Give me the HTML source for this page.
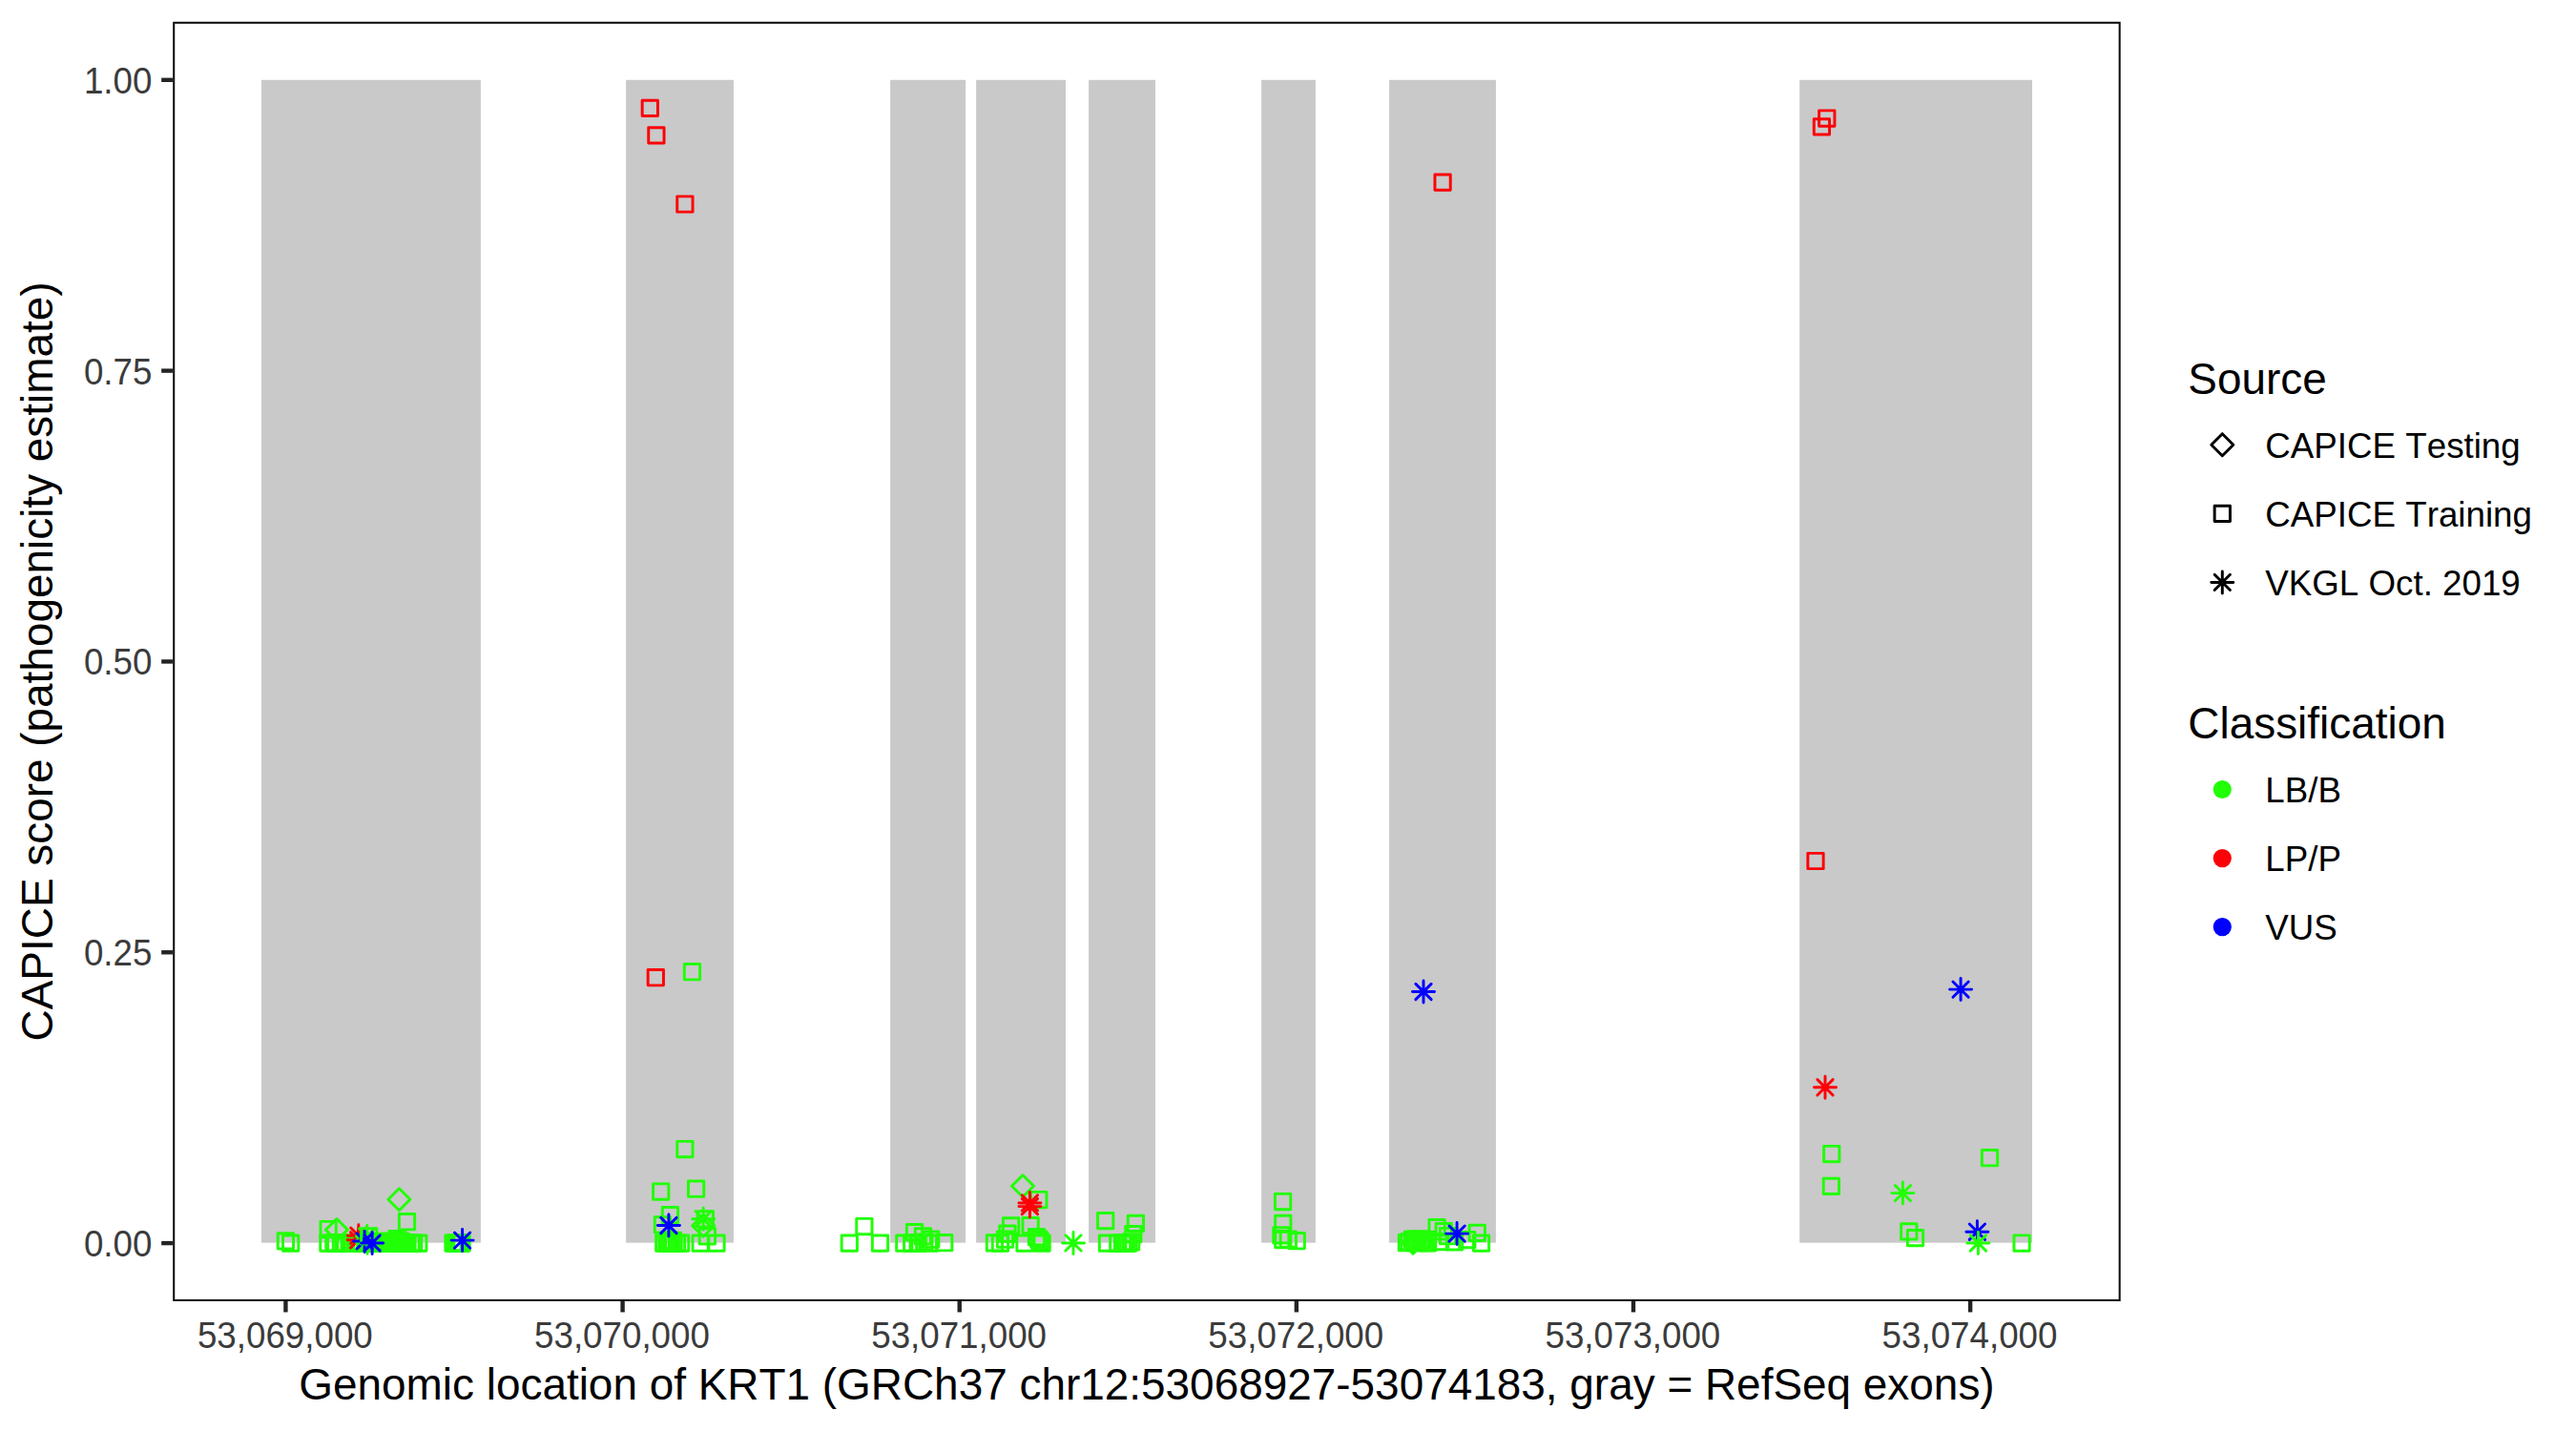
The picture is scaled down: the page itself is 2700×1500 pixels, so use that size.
<!DOCTYPE html>
<html><head><meta charset="utf-8"><title>KRT1 CAPICE scores</title>
<style>
html,body{margin:0;padding:0;background:#fff}
body{width:2700px;height:1500px;overflow:hidden}
svg{display:block}
text{font-family:"Liberation Sans",Arial,Helvetica,sans-serif;font-kerning:none}
.tk{font-size:36.74px;fill:#3b3b3b}
.lb{font-size:36.74px;fill:#000}
.tt{font-size:45.92px;fill:#000}
</style></head><body>
<svg width="2700" height="1500" viewBox="0 0 2700 1500">
<rect width="2700" height="1500" fill="#fff"/>

<g fill="#c9c9c9">
<rect x="274.0" y="83.8" width="229.9" height="1218.9"/>
<rect x="656.1" y="83.8" width="112.8" height="1218.9"/>
<rect x="933.1" y="83.8" width="79.0" height="1218.9"/>
<rect x="1023.1" y="83.8" width="93.9" height="1218.9"/>
<rect x="1141.1" y="83.8" width="69.9" height="1218.9"/>
<rect x="1322.1" y="83.8" width="56.8" height="1218.9"/>
<rect x="1456.1" y="83.8" width="111.8" height="1218.9"/>
<rect x="1886.2" y="83.8" width="243.8" height="1218.9"/>
</g>
<g fill="none" stroke-width="2.95" stroke-linejoin="round" stroke-linecap="round">
<rect x="291.25" y="1292.76" width="16.29" height="16.29" stroke="#21ff06"/>
<rect x="296.56" y="1294.95" width="16.29" height="16.29" stroke="#21ff06"/>
<rect x="335.75" y="1294.95" width="16.29" height="16.29" stroke="#21ff06"/>
<rect x="341.75" y="1294.95" width="16.29" height="16.29" stroke="#21ff06"/>
<rect x="343.56" y="1294.95" width="16.29" height="16.29" stroke="#21ff06"/>
<rect x="349.25" y="1294.95" width="16.29" height="16.29" stroke="#21ff06"/>
<rect x="353.86" y="1294.95" width="16.29" height="16.29" stroke="#21ff06"/>
<rect x="358.56" y="1294.95" width="16.29" height="16.29" stroke="#21ff06"/>
<rect x="361.36" y="1294.95" width="16.29" height="16.29" stroke="#21ff06"/>
<rect x="364.36" y="1294.95" width="16.29" height="16.29" stroke="#21ff06"/>
<rect x="335.96" y="1280.36" width="16.29" height="16.29" stroke="#21ff06"/>
<path d="M352.90 1277.58L364.42 1289.10L352.90 1300.62L341.38 1289.10Z" stroke="#21ff06"/>
<rect x="367.86" y="1294.95" width="16.29" height="16.29" stroke="#21ff06"/>
<rect x="370.86" y="1294.95" width="16.29" height="16.29" stroke="#21ff06"/>
<path d="M364.28 1295.20H387.32M375.80 1283.68V1306.72M367.66 1287.06L383.94 1303.35M367.66 1303.35L383.94 1287.06" stroke="#fb0207"/>
<path d="M364.08 1299.80H387.12M375.60 1288.28V1311.32M367.46 1291.65L383.75 1307.94M367.46 1307.94L383.75 1291.65" stroke="#fb0207"/>
<rect x="374.86" y="1294.95" width="16.29" height="16.29" stroke="#21ff06"/>
<rect x="378.86" y="1294.95" width="16.29" height="16.29" stroke="#21ff06"/>
<rect x="382.86" y="1294.95" width="16.29" height="16.29" stroke="#21ff06"/>
<rect x="386.36" y="1294.95" width="16.29" height="16.29" stroke="#21ff06"/>
<rect x="389.86" y="1294.36" width="16.29" height="16.29" stroke="#21ff06"/>
<rect x="392.36" y="1293.15" width="16.29" height="16.29" stroke="#21ff06"/>
<rect x="394.56" y="1294.95" width="16.29" height="16.29" stroke="#21ff06"/>
<rect x="396.75" y="1294.06" width="16.29" height="16.29" stroke="#21ff06"/>
<rect x="398.96" y="1293.15" width="16.29" height="16.29" stroke="#21ff06"/>
<rect x="401.16" y="1294.95" width="16.29" height="16.29" stroke="#21ff06"/>
<rect x="403.36" y="1294.06" width="16.29" height="16.29" stroke="#21ff06"/>
<rect x="405.56" y="1293.15" width="16.29" height="16.29" stroke="#21ff06"/>
<rect x="407.75" y="1294.95" width="16.29" height="16.29" stroke="#21ff06"/>
<rect x="409.96" y="1294.06" width="16.29" height="16.29" stroke="#21ff06"/>
<rect x="412.16" y="1293.15" width="16.29" height="16.29" stroke="#21ff06"/>
<rect x="414.36" y="1294.95" width="16.29" height="16.29" stroke="#21ff06"/>
<rect x="407.86" y="1290.45" width="16.29" height="16.29" stroke="#21ff06"/>
<rect x="408.56" y="1290.76" width="16.29" height="16.29" stroke="#21ff06"/>
<rect x="416.36" y="1294.95" width="16.29" height="16.29" stroke="#21ff06"/>
<rect x="418.86" y="1294.95" width="16.29" height="16.29" stroke="#21ff06"/>
<rect x="422.86" y="1294.95" width="16.29" height="16.29" stroke="#21ff06"/>
<rect x="425.56" y="1294.95" width="16.29" height="16.29" stroke="#21ff06"/>
<rect x="430.66" y="1294.95" width="16.29" height="16.29" stroke="#21ff06"/>
<path d="M373.18 1295.90H396.22M384.70 1284.38V1307.42M376.56 1287.76L392.84 1304.05M376.56 1304.05L392.84 1287.76" stroke="#21ff06"/>
<path d="M373.48 1302.80H396.52M385.00 1291.28V1314.32M376.86 1294.65L393.14 1310.94M376.86 1310.94L393.14 1294.65" stroke="#21ff06"/>
<path d="M370.58 1300.90H393.62M382.10 1289.38V1312.42M373.96 1292.76L390.25 1309.05M373.96 1309.05L390.25 1292.76" stroke="#0000ff"/>
<rect x="378.56" y="1287.65" width="16.29" height="16.29" stroke="#21ff06"/>
<path d="M378.58 1303.00H401.62M390.10 1291.48V1314.52M381.96 1294.86L398.25 1311.14M381.96 1311.14L398.25 1294.86" stroke="#0000ff"/>
<path d="M418.40 1245.78L429.92 1257.30L418.40 1268.82L406.88 1257.30Z" stroke="#21ff06"/>
<rect x="418.36" y="1272.56" width="16.29" height="16.29" stroke="#21ff06"/>
<rect x="466.86" y="1294.95" width="16.29" height="16.29" stroke="#21ff06"/>
<rect x="468.36" y="1294.95" width="16.29" height="16.29" stroke="#21ff06"/>
<rect x="470.25" y="1294.95" width="16.29" height="16.29" stroke="#21ff06"/>
<rect x="472.36" y="1294.95" width="16.29" height="16.29" stroke="#21ff06"/>
<rect x="474.56" y="1294.95" width="16.29" height="16.29" stroke="#21ff06"/>
<rect x="475.86" y="1294.95" width="16.29" height="16.29" stroke="#21ff06"/>
<path d="M473.08 1300.10H496.12M484.60 1288.58V1311.62M476.46 1291.95L492.75 1308.24M476.46 1308.24L492.75 1291.95" stroke="#0000ff"/>
<rect x="673.15" y="105.16" width="16.29" height="16.29" stroke="#fb0207"/>
<rect x="679.75" y="133.66" width="16.29" height="16.29" stroke="#fb0207"/>
<rect x="709.75" y="205.85" width="16.29" height="16.29" stroke="#fb0207"/>
<rect x="679.15" y="1016.56" width="16.29" height="16.29" stroke="#fb0207"/>
<rect x="717.31" y="1010.56" width="16.29" height="16.29" stroke="#21ff06"/>
<rect x="709.75" y="1196.36" width="16.29" height="16.29" stroke="#21ff06"/>
<rect x="684.56" y="1240.86" width="16.29" height="16.29" stroke="#21ff06"/>
<rect x="721.46" y="1238.06" width="16.29" height="16.29" stroke="#21ff06"/>
<rect x="694.25" y="1265.56" width="16.29" height="16.29" stroke="#21ff06"/>
<rect x="686.25" y="1275.65" width="16.29" height="16.29" stroke="#21ff06"/>
<rect x="687.65" y="1294.95" width="16.29" height="16.29" stroke="#21ff06"/>
<rect x="690.86" y="1294.95" width="16.29" height="16.29" stroke="#21ff06"/>
<rect x="694.36" y="1294.95" width="16.29" height="16.29" stroke="#21ff06"/>
<rect x="697.86" y="1294.95" width="16.29" height="16.29" stroke="#21ff06"/>
<rect x="701.36" y="1294.95" width="16.29" height="16.29" stroke="#21ff06"/>
<rect x="705.46" y="1294.95" width="16.29" height="16.29" stroke="#21ff06"/>
<rect x="692.36" y="1292.15" width="16.29" height="16.29" stroke="#21ff06"/>
<rect x="694.86" y="1292.15" width="16.29" height="16.29" stroke="#21ff06"/>
<rect x="697.36" y="1292.15" width="16.29" height="16.29" stroke="#21ff06"/>
<path d="M689.38 1284.50H712.42M700.90 1272.98V1296.02M692.75 1276.36L709.04 1292.64M692.75 1292.64L709.04 1276.36" stroke="#0000ff"/>
<rect x="731.25" y="1269.65" width="16.29" height="16.29" stroke="#21ff06"/>
<path d="M725.68 1277.75H748.72M737.20 1266.23V1289.27M729.06 1269.61L745.35 1285.89M729.06 1285.89L745.35 1269.61" stroke="#21ff06"/>
<path d="M737.20 1273.23L748.72 1284.75L737.20 1296.27L725.68 1284.75Z" stroke="#21ff06"/>
<rect x="726.00" y="1294.90" width="16.29" height="16.29" stroke="#21ff06"/>
<rect x="733.25" y="1287.65" width="16.29" height="16.29" stroke="#21ff06"/>
<rect x="742.86" y="1294.90" width="16.29" height="16.29" stroke="#21ff06"/>
<rect x="882.15" y="1294.95" width="16.29" height="16.29" stroke="#21ff06"/>
<rect x="897.75" y="1277.36" width="16.29" height="16.29" stroke="#21ff06"/>
<rect x="914.36" y="1294.95" width="16.29" height="16.29" stroke="#21ff06"/>
<rect x="939.65" y="1294.95" width="16.29" height="16.29" stroke="#21ff06"/>
<rect x="947.56" y="1294.95" width="16.29" height="16.29" stroke="#21ff06"/>
<rect x="950.36" y="1283.56" width="16.29" height="16.29" stroke="#21ff06"/>
<rect x="954.06" y="1294.95" width="16.29" height="16.29" stroke="#21ff06"/>
<rect x="959.25" y="1287.76" width="16.29" height="16.29" stroke="#21ff06"/>
<rect x="960.65" y="1293.86" width="16.29" height="16.29" stroke="#21ff06"/>
<rect x="965.75" y="1294.95" width="16.29" height="16.29" stroke="#21ff06"/>
<rect x="967.56" y="1291.06" width="16.29" height="16.29" stroke="#21ff06"/>
<rect x="981.56" y="1294.56" width="16.29" height="16.29" stroke="#21ff06"/>
<path d="M1072.00 1231.78L1083.52 1243.30L1072.00 1254.82L1060.48 1243.30Z" stroke="#21ff06"/>
<rect x="1080.65" y="1249.36" width="16.29" height="16.29" stroke="#21ff06"/>
<rect x="1051.45" y="1276.76" width="16.29" height="16.29" stroke="#21ff06"/>
<rect x="1071.95" y="1276.45" width="16.29" height="16.29" stroke="#21ff06"/>
<rect x="1047.76" y="1284.95" width="16.29" height="16.29" stroke="#21ff06"/>
<rect x="1045.36" y="1291.06" width="16.29" height="16.29" stroke="#21ff06"/>
<rect x="1034.26" y="1294.76" width="16.29" height="16.29" stroke="#21ff06"/>
<rect x="1040.26" y="1294.95" width="16.29" height="16.29" stroke="#21ff06"/>
<rect x="1065.86" y="1294.95" width="16.29" height="16.29" stroke="#21ff06"/>
<rect x="1078.26" y="1288.40" width="16.29" height="16.29" stroke="#21ff06"/>
<rect x="1080.65" y="1290.86" width="16.29" height="16.29" stroke="#21ff06"/>
<rect x="1082.15" y="1293.15" width="16.29" height="16.29" stroke="#21ff06"/>
<rect x="1083.95" y="1294.95" width="16.29" height="16.29" stroke="#21ff06"/>
<path d="M1067.88 1260.90H1090.92M1079.40 1249.38V1272.42M1071.26 1252.76L1087.55 1269.05M1071.26 1269.05L1087.55 1252.76" stroke="#fb0207"/>
<path d="M1067.88 1264.60H1090.92M1079.40 1253.08V1276.12M1071.26 1256.45L1087.55 1272.74M1071.26 1272.74L1087.55 1256.45" stroke="#fb0207"/>
<path d="M1113.48 1302.90H1136.52M1125.00 1291.38V1314.42M1116.86 1294.76L1133.14 1311.05M1116.86 1311.05L1133.14 1294.76" stroke="#21ff06"/>
<rect x="1150.56" y="1271.45" width="16.29" height="16.29" stroke="#21ff06"/>
<rect x="1182.26" y="1274.26" width="16.29" height="16.29" stroke="#21ff06"/>
<rect x="1179.65" y="1285.45" width="16.29" height="16.29" stroke="#21ff06"/>
<rect x="1152.36" y="1294.95" width="16.29" height="16.29" stroke="#21ff06"/>
<rect x="1163.65" y="1294.95" width="16.29" height="16.29" stroke="#21ff06"/>
<rect x="1168.36" y="1294.95" width="16.29" height="16.29" stroke="#21ff06"/>
<rect x="1169.56" y="1294.95" width="16.29" height="16.29" stroke="#21ff06"/>
<rect x="1172.06" y="1294.95" width="16.29" height="16.29" stroke="#21ff06"/>
<rect x="1174.36" y="1294.95" width="16.29" height="16.29" stroke="#21ff06"/>
<rect x="1177.45" y="1293.65" width="16.29" height="16.29" stroke="#21ff06"/>
<rect x="1336.45" y="1251.36" width="16.29" height="16.29" stroke="#21ff06"/>
<rect x="1336.65" y="1274.15" width="16.29" height="16.29" stroke="#21ff06"/>
<rect x="1334.76" y="1286.65" width="16.29" height="16.29" stroke="#21ff06"/>
<rect x="1336.65" y="1291.36" width="16.29" height="16.29" stroke="#21ff06"/>
<rect x="1342.15" y="1290.86" width="16.29" height="16.29" stroke="#21ff06"/>
<rect x="1351.06" y="1292.56" width="16.29" height="16.29" stroke="#21ff06"/>
<rect x="1503.95" y="183.05" width="16.29" height="16.29" stroke="#fb0207"/>
<path d="M1480.48 1039.50H1503.52M1492.00 1027.98V1051.02M1483.86 1031.36L1500.14 1047.64M1483.86 1047.64L1500.14 1031.36" stroke="#0000ff"/>
<rect x="1466.26" y="1294.56" width="16.29" height="16.29" stroke="#21ff06"/>
<rect x="1468.86" y="1293.45" width="16.29" height="16.29" stroke="#21ff06"/>
<rect x="1472.36" y="1290.86" width="16.29" height="16.29" stroke="#21ff06"/>
<rect x="1474.86" y="1294.36" width="16.29" height="16.29" stroke="#21ff06"/>
<rect x="1477.36" y="1291.06" width="16.29" height="16.29" stroke="#21ff06"/>
<rect x="1480.36" y="1292.86" width="16.29" height="16.29" stroke="#21ff06"/>
<rect x="1482.86" y="1290.86" width="16.29" height="16.29" stroke="#21ff06"/>
<rect x="1485.36" y="1294.36" width="16.29" height="16.29" stroke="#21ff06"/>
<rect x="1488.36" y="1291.26" width="16.29" height="16.29" stroke="#21ff06"/>
<rect x="1488.36" y="1294.65" width="16.29" height="16.29" stroke="#21ff06"/>
<path d="M1481.10 1291.18L1492.62 1302.70L1481.10 1314.22L1469.58 1302.70Z" stroke="#21ff06"/>
<rect x="1497.95" y="1278.45" width="16.29" height="16.29" stroke="#21ff06"/>
<rect x="1505.15" y="1282.56" width="16.29" height="16.29" stroke="#21ff06"/>
<rect x="1509.36" y="1287.36" width="16.29" height="16.29" stroke="#21ff06"/>
<rect x="1501.45" y="1293.36" width="16.29" height="16.29" stroke="#21ff06"/>
<rect x="1516.36" y="1293.76" width="16.29" height="16.29" stroke="#21ff06"/>
<rect x="1529.65" y="1291.36" width="16.29" height="16.29" stroke="#21ff06"/>
<rect x="1540.15" y="1284.26" width="16.29" height="16.29" stroke="#21ff06"/>
<rect x="1544.36" y="1294.95" width="16.29" height="16.29" stroke="#21ff06"/>
<path d="M1515.58 1293.10H1538.62M1527.10 1281.58V1304.62M1518.95 1284.95L1535.24 1301.24M1518.95 1301.24L1535.24 1284.95" stroke="#0000ff"/>
<rect x="1906.65" y="115.86" width="16.29" height="16.29" stroke="#fb0207"/>
<rect x="1901.26" y="124.66" width="16.29" height="16.29" stroke="#fb0207"/>
<rect x="1894.86" y="894.36" width="16.29" height="16.29" stroke="#fb0207"/>
<path d="M2043.58 1037.10H2066.62M2055.10 1025.58V1048.62M2046.95 1028.95L2063.24 1045.24M2046.95 1045.24L2063.24 1028.95" stroke="#0000ff"/>
<path d="M1901.48 1139.80H1924.52M1913.00 1128.28V1151.32M1904.86 1131.65L1921.14 1147.94M1904.86 1147.94L1921.14 1131.65" stroke="#fb0207"/>
<rect x="1911.65" y="1201.36" width="16.29" height="16.29" stroke="#21ff06"/>
<rect x="1911.26" y="1235.26" width="16.29" height="16.29" stroke="#21ff06"/>
<path d="M1982.88 1250.60H2005.92M1994.40 1239.08V1262.12M1986.26 1242.45L2002.55 1258.74M1986.26 1258.74L2002.55 1242.45" stroke="#21ff06"/>
<rect x="2077.36" y="1205.56" width="16.29" height="16.29" stroke="#21ff06"/>
<rect x="1992.65" y="1282.76" width="16.29" height="16.29" stroke="#21ff06"/>
<rect x="1999.36" y="1289.45" width="16.29" height="16.29" stroke="#21ff06"/>
<path d="M2060.88 1291.20H2083.92M2072.40 1279.68V1302.72M2064.26 1283.06L2080.55 1299.35M2064.26 1299.35L2080.55 1283.06" stroke="#0000ff"/>
<path d="M2061.88 1303.00H2084.92M2073.40 1291.48V1314.52M2065.26 1294.86L2081.55 1311.14M2065.26 1311.14L2081.55 1294.86" stroke="#21ff06"/>
<rect x="2110.95" y="1294.86" width="16.29" height="16.29" stroke="#21ff06"/>
</g>
<rect x="182.22" y="23.82" width="2039.45" height="1339.15" fill="none" stroke="#0d0d0d" stroke-width="2.05"/>
<g stroke="#242424" stroke-width="4.4">
<line x1="169.20" x2="181.20" y1="1303.10" y2="1303.10"/>
<line x1="169.20" x2="181.20" y1="998.27" y2="998.27"/>
<line x1="169.20" x2="181.20" y1="693.45" y2="693.45"/>
<line x1="169.20" x2="181.20" y1="388.62" y2="388.62"/>
<line x1="169.20" x2="181.20" y1="83.80" y2="83.80"/>
<line x1="299.43" x2="299.43" y1="1364.00" y2="1375.46"/>
<line x1="652.57" x2="652.57" y1="1364.00" y2="1375.46"/>
<line x1="1005.71" x2="1005.71" y1="1364.00" y2="1375.46"/>
<line x1="1358.85" x2="1358.85" y1="1364.00" y2="1375.46"/>
<line x1="1711.99" x2="1711.99" y1="1364.00" y2="1375.46"/>
<line x1="2065.13" x2="2065.13" y1="1364.00" y2="1375.46"/>
</g>
<text class="tk" text-anchor="end" transform="translate(159.4 1317.05) scale(1 1.04)">0.00</text>
<text class="tk" text-anchor="end" transform="translate(159.4 1012.22) scale(1 1.04)">0.25</text>
<text class="tk" text-anchor="end" transform="translate(159.4 707.40) scale(1 1.04)">0.50</text>
<text class="tk" text-anchor="end" transform="translate(159.4 402.57) scale(1 1.04)">0.75</text>
<text class="tk" text-anchor="end" transform="translate(159.4 97.75) scale(1 1.04)">1.00</text>
<text class="tk" text-anchor="middle" transform="translate(298.83 1412.85) scale(1 1.04)">53,069,000</text>
<text class="tk" text-anchor="middle" transform="translate(651.97 1412.85) scale(1 1.04)">53,070,000</text>
<text class="tk" text-anchor="middle" transform="translate(1005.11 1412.85) scale(1 1.04)">53,071,000</text>
<text class="tk" text-anchor="middle" transform="translate(1358.25 1412.85) scale(1 1.04)">53,072,000</text>
<text class="tk" text-anchor="middle" transform="translate(1711.39 1412.85) scale(1 1.04)">53,073,000</text>
<text class="tk" text-anchor="middle" transform="translate(2064.53 1412.85) scale(1 1.04)">53,074,000</text>
<text class="tt" text-anchor="middle" x="1201.95" y="1467.2">Genomic location of KRT1 (GRCh37 chr12:53068927-53074183, gray = RefSeq exons)</text>
<text class="tt" text-anchor="middle" transform="translate(55.1 693.40) rotate(-90)">CAPICE score (pathogenicity estimate)</text>
<text class="tt" x="2293.3" y="412.7">Source</text>
<g fill="none" stroke="#000" stroke-width="2.95" stroke-linejoin="round" stroke-linecap="round">
<path d="M2329.30 454.68L2340.82 466.20L2329.30 477.72L2317.78 466.20Z" stroke="#000"/>
<rect x="2321.16" y="530.15" width="16.29" height="16.29" stroke="#000"/>
<path d="M2317.78 610.40H2340.82M2329.30 598.88V621.92M2321.16 602.25L2337.45 618.54M2321.16 618.54L2337.45 602.25" stroke="#000"/>
</g>
<text class="lb" x="2374.3" y="480.0">CAPICE Testing</text>
<text class="lb" x="2374.3" y="552.1">CAPICE Training</text>
<text class="lb" x="2374.3" y="624.1">VKGL Oct. 2019</text>
<text class="tt" x="2293.3" y="773.6">Classification</text>
<circle cx="2329.3" cy="827.5" r="9.6" fill="#21ff06"/>
<circle cx="2329.3" cy="899.6" r="9.6" fill="#fb0207"/>
<circle cx="2329.3" cy="971.6" r="9.6" fill="#0000ff"/>
<text class="lb" x="2374.3" y="841.0">LB/B</text>
<text class="lb" x="2374.3" y="913.1">LP/P</text>
<text class="lb" x="2374.3" y="985.1">VUS</text>
</svg></body></html>
